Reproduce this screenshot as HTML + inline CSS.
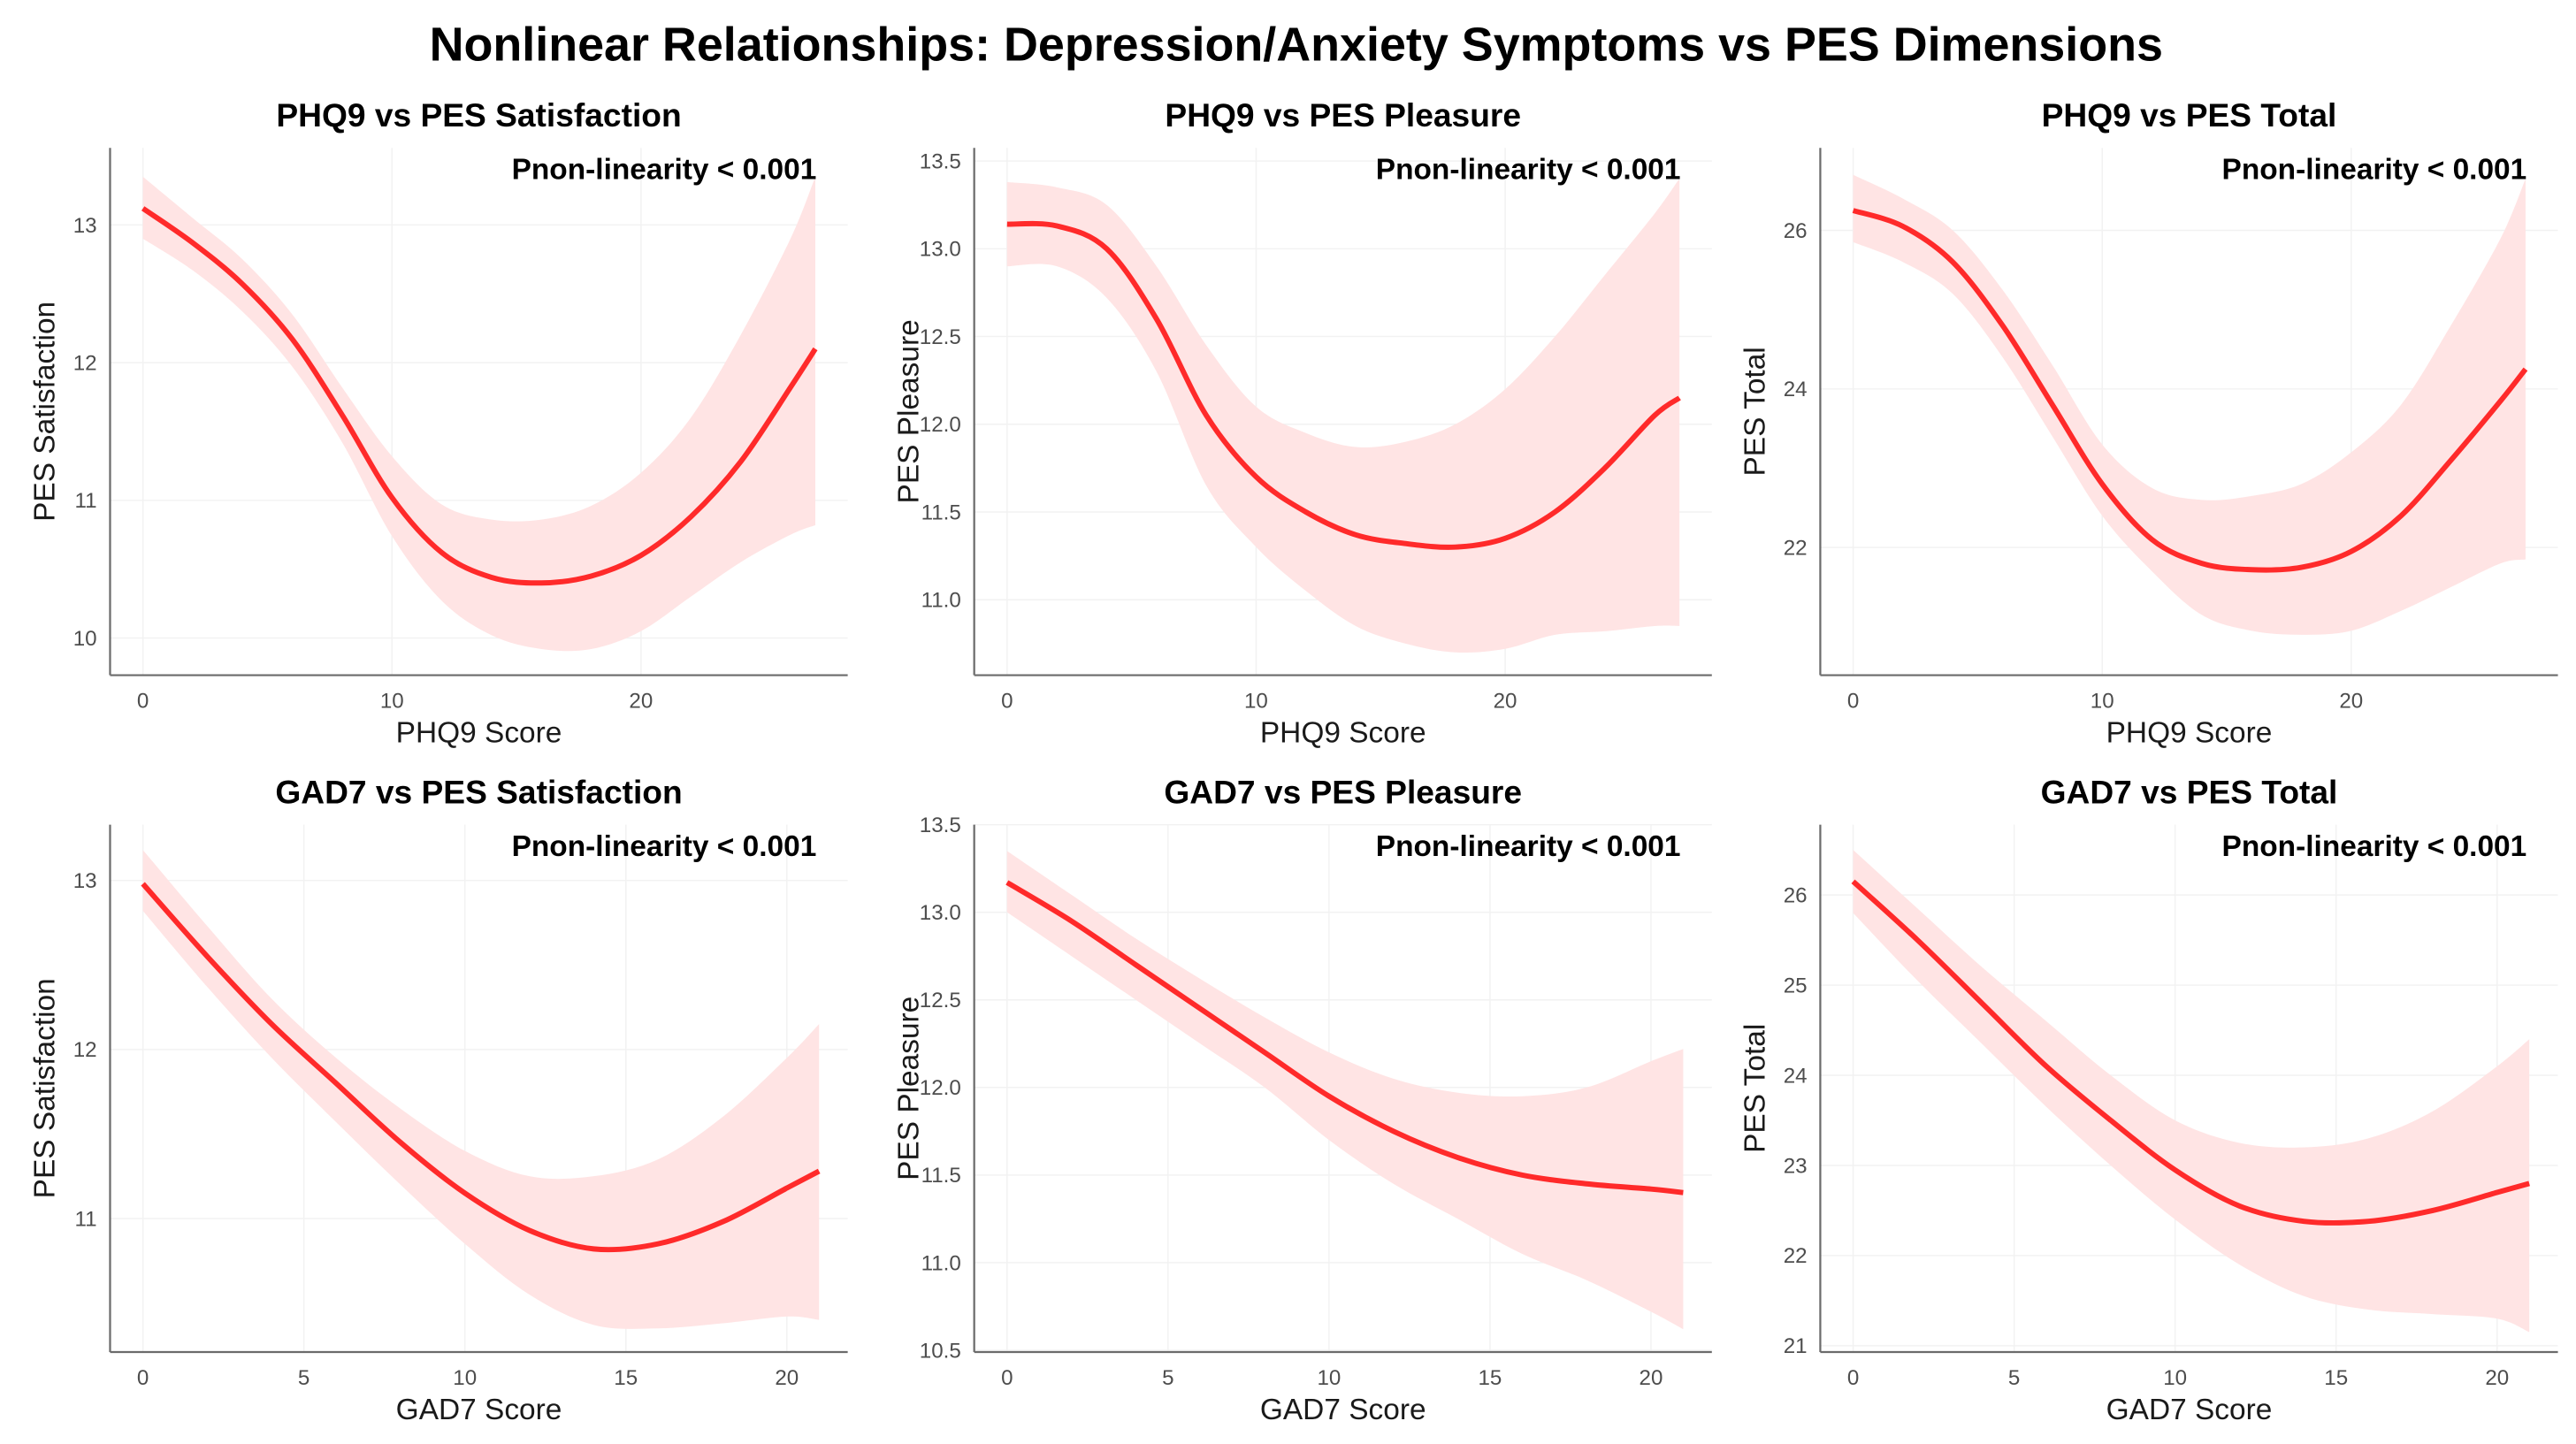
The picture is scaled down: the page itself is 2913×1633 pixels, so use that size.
<!DOCTYPE html>
<html><head><meta charset="utf-8"><style>
html,body{margin:0;padding:0;background:#fff;}
svg{display:block;font-family:"Liberation Sans",Arial,sans-serif;}
</style></head><body>
<svg id="chart" width="2913" height="1633" viewBox="0 0 1568 879" preserveAspectRatio="none" xmlns="http://www.w3.org/2000/svg">
<text x="789" y="37" text-anchor="middle" font-size="29" font-weight="bold" fill="#000">Nonlinear Relationships: Depression/Anxiety Symptoms vs PES Dimensions</text>
</svg>
<script>
// ---- data arrays ----
const titles = ["PHQ9 vs PES Satisfaction","PHQ9 vs PES Pleasure","PHQ9 vs PES Total","GAD7 vs PES Satisfaction","GAD7 vs PES Pleasure","GAD7 vs PES Total"];
const yTitles = ["PES Satisfaction","PES Pleasure","PES Total","PES Satisfaction","PES Pleasure","PES Total"];
const xTitles = ["PHQ9 Score","PHQ9 Score","PHQ9 Score","GAD7 Score","GAD7 Score","GAD7 Score"];
const annotation = "Pnon-linearity < 0.001";
const xTicksPHQ = [0,10,20];
const xTicksGAD = [0,5,10,15,20];
const yTicks1 = [10,11,12,13];
const yTicks2 = [11,11.5,12,12.5,13,13.5];
const yTicks3 = [22,24,26];
const yTicks4 = [11,12,13];
const yTicks5 = [10.5,11,11.5,12,12.5,13,13.5];
const yTicks6 = [21,22,23,24,25,26];

const xPHQ = [0,2,4,6,8,10,12,14,16,18,20,22,24,26,27];
const xGAD = [0,2,4,6,8,10,12,14,16,18,20,21];

const fit1 = [13.12,12.87,12.57,12.17,11.62,11.02,10.62,10.44,10.4,10.45,10.6,10.88,11.28,11.82,12.1];
const up1  = [13.35,13.05,12.75,12.35,11.82,11.32,10.97,10.86,10.86,10.96,11.2,11.6,12.2,12.9,13.35];
const lo1  = [12.9,12.67,12.37,11.97,11.42,10.74,10.27,10.02,9.92,9.92,10.05,10.3,10.55,10.75,10.82];

const fit2 = [13.14,13.13,13.0,12.6,12.05,11.7,11.5,11.37,11.32,11.3,11.35,11.5,11.75,12.05,12.15];
const up2  = [13.38,13.35,13.25,12.9,12.45,12.1,11.95,11.87,11.9,12.0,12.2,12.5,12.85,13.2,13.4];
const lo2  = [12.9,12.9,12.72,12.3,11.65,11.3,11.05,10.85,10.75,10.7,10.72,10.8,10.82,10.85,10.85];

const fit3 = [26.25,26.05,25.6,24.8,23.8,22.8,22.1,21.8,21.72,21.75,21.95,22.4,23.1,23.85,24.25];
const up3  = [26.7,26.4,26.0,25.25,24.3,23.3,22.75,22.6,22.65,22.8,23.2,23.8,24.8,25.9,26.65];
const lo3  = [25.85,25.6,25.2,24.4,23.4,22.4,21.7,21.15,20.95,20.9,20.95,21.2,21.5,21.8,21.85];

const fit4 = [12.98,12.55,12.15,11.8,11.45,11.15,10.93,10.82,10.85,10.98,11.18,11.28];
const up4  = [13.18,12.73,12.3,11.95,11.65,11.4,11.25,11.25,11.35,11.6,11.95,12.15];
const lo4  = [12.82,12.37,11.95,11.57,11.2,10.85,10.55,10.37,10.35,10.38,10.42,10.4];

const fit5 = [13.17,12.95,12.7,12.45,12.2,11.95,11.75,11.6,11.5,11.45,11.42,11.4];
const up5  = [13.35,13.1,12.85,12.62,12.4,12.2,12.05,11.97,11.95,12.0,12.15,12.22];
const lo5  = [13.0,12.75,12.5,12.25,12.0,11.7,11.45,11.25,11.05,10.9,10.72,10.62];

const fit6 = [26.15,25.5,24.8,24.1,23.5,22.95,22.55,22.38,22.38,22.5,22.7,22.8];
const up6  = [26.5,25.85,25.2,24.6,24.0,23.5,23.25,23.2,23.3,23.6,24.1,24.4];
const lo6  = [25.8,25.05,24.35,23.65,23.0,22.4,21.9,21.55,21.4,21.35,21.3,21.15];

// ---- layout ----
const NS="http://www.w3.org/2000/svg";
const svg=document.getElementById('chart');
const colL=[67,593,1108], colR=[516,1042,1557], rowT=[90,502], rowB=[411,823];
const panels=[
 {x:xPHQ,fit:fit1,up:up1,lo:lo1,xd:[-1.32,28.3],yd:[9.73,13.56],xt:xTicksPHQ,yt:yTicks1,dec:0},
 {x:xPHQ,fit:fit2,up:up2,lo:lo2,xd:[-1.32,28.3],yd:[10.57,13.575],xt:xTicksPHQ,yt:yTicks2,dec:1},
 {x:xPHQ,fit:fit3,up:up3,lo:lo3,xd:[-1.32,28.3],yd:[20.39,27.04],xt:xTicksPHQ,yt:yTicks3,dec:0},
 {x:xGAD,fit:fit4,up:up4,lo:lo4,xd:[-1.02,21.89],yd:[10.21,13.33],xt:xTicksGAD,yt:yTicks4,dec:0},
 {x:xGAD,fit:fit5,up:up5,lo:lo5,xd:[-1.02,21.89],yd:[10.49,13.5],xt:xTicksGAD,yt:yTicks5,dec:1},
 {x:xGAD,fit:fit6,up:up6,lo:lo6,xd:[-1.02,21.89],yd:[20.93,26.78],xt:xTicksGAD,yt:yTicks6,dec:0}
];
function mk(tag,attrs,parent){const e=document.createElementNS(NS,tag);for(const k in attrs)e.setAttribute(k,attrs[k]);(parent||svg).appendChild(e);return e;}
function smooth(pts){
  let d='M'+pts[0][0].toFixed(2)+','+pts[0][1].toFixed(2);
  for(let i=0;i<pts.length-1;i++){
    const p0=pts[Math.max(0,i-1)],p1=pts[i],p2=pts[i+1],p3=pts[Math.min(pts.length-1,i+2)];
    const c1=[p1[0]+(p2[0]-p0[0])/6,p1[1]+(p2[1]-p0[1])/6];
    const c2=[p2[0]-(p3[0]-p1[0])/6,p2[1]-(p3[1]-p1[1])/6];
    d+=' C'+c1[0].toFixed(2)+','+c1[1].toFixed(2)+' '+c2[0].toFixed(2)+','+c2[1].toFixed(2)+' '+p2[0].toFixed(2)+','+p2[1].toFixed(2);
  }
  return d;
}
panels.forEach((p,i)=>{
  const c=i%3,r=Math.floor(i/3);
  const L=colL[c],R=colR[c],T=rowT[r],B=rowB[r];
  const xs=v=>L+(v-p.xd[0])/(p.xd[1]-p.xd[0])*(R-L);
  const ys=v=>B-(v-p.yd[0])/(p.yd[1]-p.yd[0])*(B-T);
  const g=mk('g',{});
  
  
  p.yt.forEach(t=>{const l=mk('line',{x1:L,x2:R,y1:ys(t),y2:ys(t),stroke:'#f2f2f2','stroke-width':0.8},g);
    });
  p.xt.forEach(t=>{const l=mk('line',{x1:xs(t),x2:xs(t),y1:T,y2:B,stroke:'#f2f2f2','stroke-width':0.8},g);
    });
  const upP=p.x.map((v,k)=>[xs(v),ys(p.up[k])]);
  const loP=p.x.map((v,k)=>[xs(v),ys(p.lo[k])]).reverse();
  const band=mk('path',{d:smooth(upP)+' L'+smooth(loP).slice(1)+' Z',fill:'#ffe4e4',stroke:'none'},g);
  
  
  const line=mk('path',{d:smooth(p.x.map((v,k)=>[xs(v),ys(p.fit[k])])),fill:'none',stroke:'#ff2a2a','stroke-width':3.2},g);
  
  
  const ya=mk('line',{x1:L,x2:L,y1:T,y2:B,stroke:'#6b6b6b','stroke-width':1.2},g);
  
  const xa=mk('line',{x1:L,x2:R,y1:B,y2:B,stroke:'#6b6b6b','stroke-width':1.2},g);
  
  p.yt.forEach(t=>{const e=mk('text',{x:L-8,y:ys(t)+4.5,'text-anchor':'end','font-size':13,fill:'#4d4d4d'},g);e.textContent=t.toFixed(p.dec);
    });
  p.xt.forEach(t=>{const e=mk('text',{x:xs(t),y:B+20,'text-anchor':'middle','font-size':13,fill:'#4d4d4d'},g);e.textContent=t;
    });
  const pt=mk('text',{x:(L+R)/2,y:T-13,'text-anchor':'middle','font-size':20,'font-weight':'bold',fill:'#000'},g);pt.textContent=titles[i];
  
  const an=mk('text',{x:R-19,y:T+19,'text-anchor':'end','font-size':18,'font-weight':'bold',fill:'#000'},g);an.textContent=annotation;
  
  const xt=mk('text',{x:(L+R)/2,y:B+41,'text-anchor':'middle','font-size':18,fill:'#1a1a1a'},g);xt.textContent=xTitles[i];
  
  const yx=L-34,yy=(T+B)/2;
  const yt=mk('text',{x:yx,y:yy,'text-anchor':'middle','font-size':18,fill:'#1a1a1a',transform:'rotate(-90 '+yx+' '+yy+')'},g);yt.textContent=yTitles[i];
  
});
</script>
</body></html>
